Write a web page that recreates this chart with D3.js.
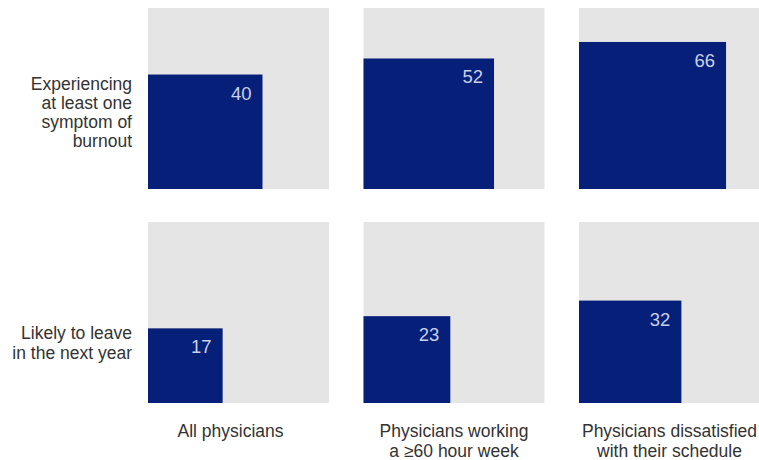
<!DOCTYPE html>
<html>
<head>
<meta charset="utf-8">
<script src="https://cdn.jsdelivr.net/npm/d3@7"></script>
<style>
  html, body { margin: 0; padding: 0; background: #ffffff; }
  svg { display: block; }
  text { font-family: "Liberation Sans", Arial, Helvetica, sans-serif; }
</style>
</head>
<body>
<svg id="chart" width="759" height="460"></svg>
<script>
// Physician survey: share (%) of each group, drawn as area-proportional squares
const groups = ["All physicians", "Physicians working|a \u226560 hour week", "Physicians dissatisfied|with their schedule"];
const measures = ["Experiencing|at least one|symptom of|burnout", "Likely to leave|in the next year"];
const burnoutValues = [40, 52, 66];
const leaveValues = [17, 23, 32];

const seriesValues = [burnoutValues, leaveValues];

const W = 759, H = 460;
const svg = d3.select("#chart");

const colors = {
  panel: "#e5e5e5",
  bar: "#061f78",
  valueText: "#c9d0ea",
  labelText: "#333333"
};

// panel grid
const x = d3.scaleBand().domain(d3.range(groups.length)).range([148, 760]).paddingInner(0.16).paddingOuter(0);
const y = d3.scaleBand().domain(d3.range(measures.length)).range([8, 403]).paddingInner(0.154).paddingOuter(0);
const side = Math.min(x.bandwidth(), y.bandwidth());

// side of a square whose area is proportional to the percentage
const s = d3.scaleSqrt().domain([0, 100]).range([0, side]);

const cells = [];
measures.forEach((m, r) => {
  groups.forEach((g, c) => {
    cells.push({ r, c, value: seriesValues[r][c] });
  });
});

const cell = svg.append("g").selectAll("g.cell")
  .data(cells)
  .join("g")
  .attr("class", "cell")
  .attr("transform", d => `translate(${x(d.c)},${y(d.r)})`);

cell.append("rect")
  .attr("width", side)
  .attr("height", side)
  .attr("fill", colors.panel);

cell.append("rect")
  .attr("x", 0)
  .attr("y", d => side - s(d.value))
  .attr("width", d => s(d.value))
  .attr("height", d => s(d.value))
  .attr("fill", colors.bar);

cell.append("text")
  .attr("x", d => s(d.value) - 11)
  .attr("y", d => side - s(d.value) + 25)
  .attr("text-anchor", "end")
  .attr("font-size", "18.5px")
  .attr("fill", colors.valueText)
  .text(d => d.value);

// row labels, right-aligned left of the grid
const rowFirstBaseline = [89.5, 339.3];
const rowLineHeight = [19.3, 20];
svg.append("g").selectAll("text.row")
  .data(measures)
  .join("text")
  .attr("class", "row")
  .attr("text-anchor", "end")
  .attr("font-size", "17.5px")
  .attr("fill", colors.labelText)
  .each(function (d, i) {
    const t = d3.select(this);
    d.split("|").forEach((line, k) => {
      t.append("tspan")
        .attr("x", 132)
        .attr("y", rowFirstBaseline[i] + k * rowLineHeight[i])
        .text(line);
    });
  });

// column labels, centred below each column
const colDx = [-8, 0, 0];
svg.append("g").selectAll("text.col")
  .data(groups)
  .join("text")
  .attr("class", "col")
  .attr("text-anchor", "middle")
  .attr("font-size", "17.5px")
  .attr("fill", colors.labelText)
  .each(function (d, i) {
    const t = d3.select(this);
    d.split("|").forEach((line, k) => {
      t.append("tspan")
        .attr("x", x(i) + side / 2 + colDx[i])
        .attr("y", 436.5 + k * 20.3)
        .text(line);
    });
  });
</script>
</body>
</html>
